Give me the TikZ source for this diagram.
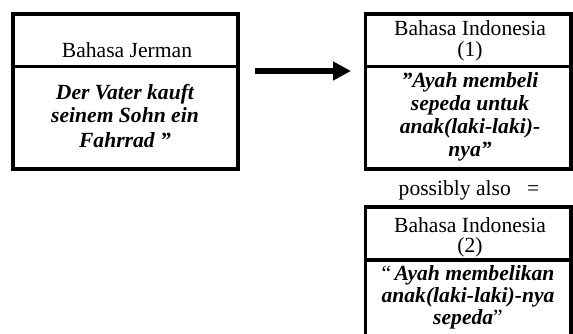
\documentclass[tikz,border=0pt]{standalone}
\usepackage{fontspec}
\setmainfont{Liberation Serif}
\usetikzlibrary{arrows.meta}
\begin{document}
\begin{tikzpicture}[x=1pt,y=-1pt,
  cell/.style={draw=black, line width=3.5pt, inner sep=0pt, outer sep=0pt},
  txt/.style={inner sep=0pt, anchor=base, font=\fontsize{21.6}{24}\selectfont},
  bi/.style={txt, font=\fontsize{21.6}{24}\selectfont\bfseries\itshape},
  bigarrow/.style={line width=6pt, -{Triangle[length=18pt,width=18pt]}}]
\useasboundingbox (0,0) rectangle (573,334);
% left box
\node[cell, minimum width=225pt, minimum height=52.5pt] (jt) at (125.5,40.25) {};
\node[cell, minimum width=225pt, minimum height=102.5pt] (jb) at (125.5,117.75) {};
% right box 1
\node[cell, minimum width=205.5pt, minimum height=52.5pt] (ta) at (468.25,40.25) {};
\node[cell, minimum width=205.5pt, minimum height=102.5pt] (tb) at (468.25,117.75) {};
% right box 2 (open at bottom)
\node[cell, minimum width=205.5pt, minimum height=53pt] (sa) at (468.25,233.5) {};
\coordinate (sbl) at (365.5,336);
\coordinate (sbr) at (571,336);
\draw[line width=3.5pt] (sbl) -- (sa.south west) -- (sa.south east) -- (sbr);
% texts left
\node[txt] (j1) at (127,58) {Bahasa Jerman};
\node[bi] (j2) at (125,100) {Der Vater kauft};
\node[bi] (j3) at (125,123) {seinem Sohn ein};
\node[bi] (j4) at (125,147) {Fahrrad ”};
% texts right 1
\node[txt] (a1) at (470,36) {Bahasa Indonesia};
\node[txt] (a2) at (470,57) {(1)};
\node[bi] (a3) at (470,88) {”Ayah membeli};
\node[bi] (a4) at (470,111) {sepeda untuk};
\node[bi] (a5) at (470,134) {anak(laki-laki)-};
\node[bi] (a6) at (470,157) {nya”};
% possibly also
\node[txt] (pa) at (469,195) {possibly also\ \ \ =};
% texts right 2
\node[txt] (b1) at (470,232) {Bahasa Indonesia};
\node[txt] (b2) at (470,252) {(2)};
\node[txt] (b3) at (468,280) {“\,\textbf{\textit{Ayah membelikan}}};
\node[bi] (b4) at (468,302) {anak(laki-laki)-nya};
\node[txt] (b5) at (468,324) {\textbf{\textit{sepeda}}”};
% arrow
\coordinate (p1) at (255,71);
\coordinate (p2) at (351,71);
\draw[bigarrow] (p1) -- (p2);
\end{tikzpicture}
\end{document}
